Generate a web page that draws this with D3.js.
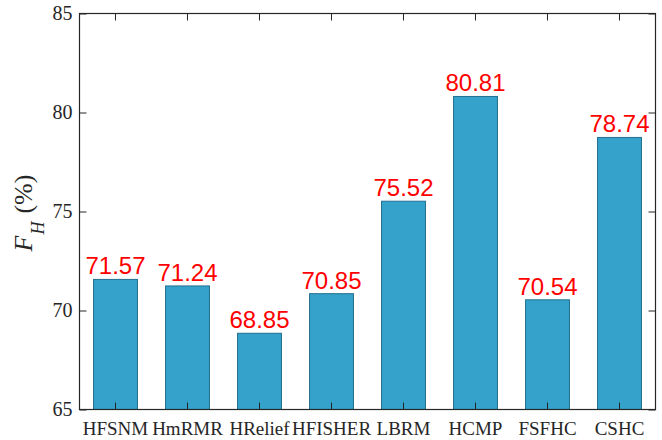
<!DOCTYPE html>
<html>
<head>
<meta charset="utf-8">
<script src="https://cdn.jsdelivr.net/npm/d3@7"></script>
<style>
  html, body { margin: 0; padding: 0; background: #fff; }
  svg { display: block; }
</style>
</head>
<body>
<svg id="chart" width="662" height="440"></svg>
<script>
// Feature-selection methods and their F_H scores (%)
const methods = ["HFSNM", "HmRMR", "HRelief", "HFISHER", "LBRM", "HCMP", "FSFHC", "CSHC"];
const scores = [71.57, 71.24, 68.85, 70.85, 75.52, 80.81, 70.54, 78.74];
const yTicks = [65, 70, 75, 80, 85];

const svg = d3.select("#chart");
const plotL = 79.5, plotR = 655.5, plotT = 13.5, plotB = 409.5;

const x = d3.scaleBand().domain(methods).range([plotL, plotR]).paddingInner(0.39).paddingOuter(0.195);
const y = d3.scaleLinear().domain([65, 85]).range([plotB, plotT]);

const data = methods.map((m, i) => ({ m, v: scores[i] }));

// bars
svg.append("g").selectAll("rect").data(data).join("rect")
  .attr("x", d => x(d.m))
  .attr("y", d => y(d.v))
  .attr("width", x.bandwidth())
  .attr("height", d => y(65) - y(d.v))
  .attr("fill", "#35A2CB")
  .attr("stroke", "#22708F")
  .attr("stroke-width", 1);

// value labels
svg.append("g").selectAll("text").data(data).join("text")
  .attr("x", d => x(d.m) + x.bandwidth() / 2)
  .attr("y", d => y(d.v) - 5)
  .attr("text-anchor", "middle")
  .attr("font-family", "'Liberation Sans', Arial, sans-serif")
  .attr("font-size", 24)
  .attr("fill", "#FF0000")
  .text(d => d.v.toFixed(2));

const axisColor = "#262626";
const tickFont = "'Liberation Serif', 'Times New Roman', serif";

// left axis (ticks inward)
const yAxis = svg.append("g").attr("transform", `translate(${plotL},0)`)
  .call(d3.axisLeft(y).tickValues(yTicks).tickSizeInner(-7).tickSizeOuter(0).tickPadding(7).tickFormat(d3.format("d")));
yAxis.select(".domain").remove();
yAxis.selectAll("line").attr("stroke", axisColor);
yAxis.selectAll("text").attr("font-family", tickFont).attr("font-size", 20).attr("fill", axisColor);

// right axis ticks
const yAxisR = svg.append("g").attr("transform", `translate(${plotR},0)`)
  .call(d3.axisRight(y).tickValues(yTicks).tickSizeInner(-7).tickSizeOuter(0).tickFormat(""));
yAxisR.select(".domain").remove();
yAxisR.selectAll("line").attr("stroke", axisColor);

// bottom axis
const xAxis = svg.append("g").attr("transform", `translate(0,${plotB})`)
  .call(d3.axisBottom(x).tickSizeInner(-7).tickSizeOuter(0).tickPadding(12));
xAxis.select(".domain").remove();
xAxis.selectAll("line").attr("stroke", axisColor);
xAxis.selectAll("text").attr("font-family", tickFont).attr("font-size", 19).attr("fill", axisColor);

// top axis ticks
const xAxisT = svg.append("g").attr("transform", `translate(0,${plotT})`)
  .call(d3.axisTop(x).tickSizeInner(-7).tickSizeOuter(0).tickFormat(""));
xAxisT.select(".domain").remove();
xAxisT.selectAll("line").attr("stroke", axisColor);

// frame
svg.append("rect")
  .attr("x", plotL).attr("y", plotT)
  .attr("width", plotR - plotL).attr("height", plotB - plotT)
  .attr("fill", "none").attr("stroke", axisColor).attr("stroke-width", 1.2);

// y-axis title: F_H (%)
const title = svg.append("text")
  .attr("transform", `translate(32,213) rotate(-90)`)
  .attr("text-anchor", "middle")
  .attr("font-family", tickFont)
  .attr("font-size", 26)
  .attr("fill", axisColor);
title.append("tspan").attr("font-style", "italic").text("F");
title.append("tspan").attr("font-style", "italic").attr("font-size", 18).attr("dy", 12).attr("dx", 1).text("H");
title.append("tspan").attr("dy", -12).attr("dx", 8).text("(%)");
</script>
</body>
</html>
